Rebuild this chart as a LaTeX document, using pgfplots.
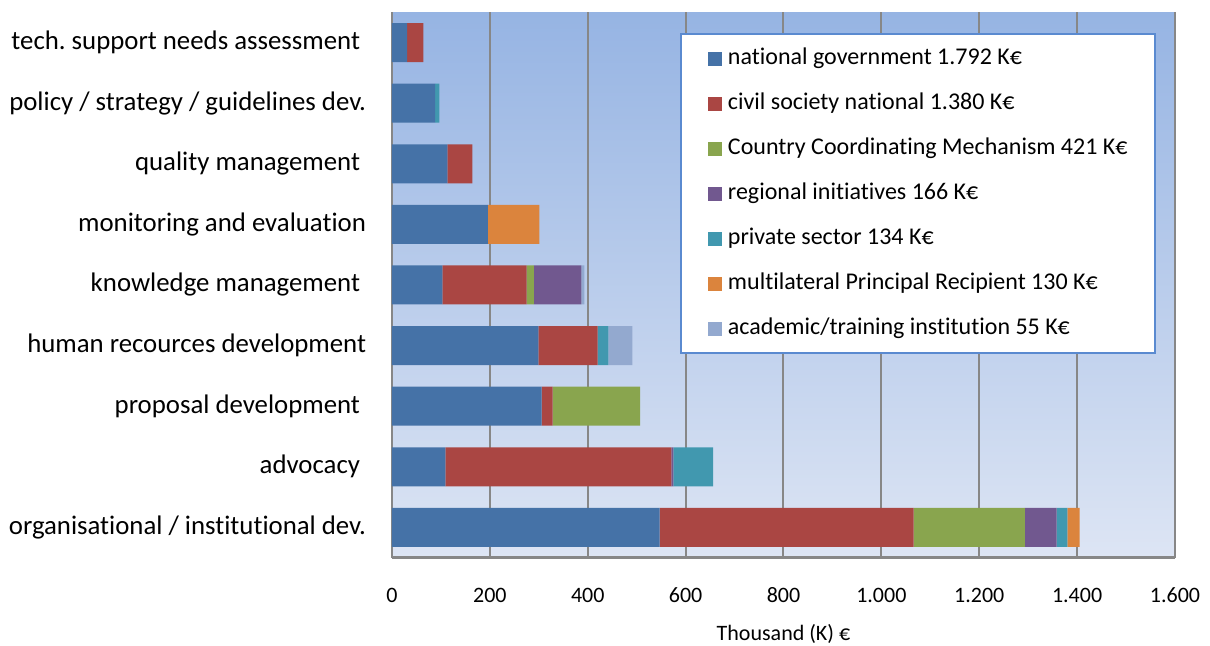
\documentclass[border=0pt]{standalone}
\usepackage{fontspec}
\setmainfont{Carlito}[Ligatures=NoCommon]
\frenchspacing
\usepackage{pgfplots}
\pgfplotsset{compat=1.18}
\definecolor{c1}{HTML}{4572A7}
\definecolor{c2}{HTML}{AA4643}
\definecolor{c3}{HTML}{89A54E}
\definecolor{c4}{HTML}{71588F}
\definecolor{c5}{HTML}{4198AF}
\definecolor{c6}{HTML}{DB843D}
\definecolor{c7}{HTML}{93A9CF}
\definecolor{gridgray}{HTML}{878787}
\definecolor{legblue}{HTML}{5A8AD0}
\definecolor{bgtop}{RGB}{150,180,227}
\definecolor{bgbot}{RGB}{221,229,244}
\begin{document}
\begin{tikzpicture}
\useasboundingbox (-196pt,-44.15pt) rectangle (409pt,278.85pt);
\begin{axis}[
  at={(0,0)}, anchor=south west,
  scale only axis, width=391.5pt, height=272.7pt,
  xbar stacked, bar width=19.5pt,
  xmin=0, xmax=1600, ymin=-0.5, ymax=8.5,
  xtick={0,200,...,1600}, ytick={0,...,8},
  yticklabels={organisational / institutional dev.,advocacy\kern3pt,proposal development\kern3pt,human recources development,knowledge management\kern3pt,monitoring and evaluation,quality management\kern3pt,policy / strategy / guidelines dev.,tech. support needs assessment\kern3pt},
  xmajorgrids, grid style={color=gridgray, line width=1pt},
  axis x line*=bottom, axis y line*=left,
  axis line style={line width=1.2pt, color=gridgray, -},
  major tick length=0pt,
  axis background/.style={top color=bgtop, bottom color=bgbot},
  /pgf/number format/assume math mode=true,
  /pgf/number format/1000 sep={.},
  scaled x ticks=false,
  xticklabel style={anchor=north, inner sep=0pt, yshift=-14.9pt, font=\fontsize{11}{13}\selectfont},
  yticklabel style={anchor=east, inner sep=0pt, xshift=-12.8pt, font=\fontsize{13.4}{15}\selectfont},
  xlabel={Thousand (K) €},
  xlabel style={at={(axis description cs:0.5,0)}, anchor=center, inner sep=0pt, yshift=-38.15pt, font=\fontsize{11}{13}\selectfont},
  legend cell align=left,
  legend image code/.code={\fill[#1] (0pt,-3.5pt) rectangle (7pt,3.5pt); \path (10pt,0pt);},
  legend style={at={(axis description cs:0.3678,0.9615)}, anchor=north west,
    draw=legblue, line width=1pt, fill=white,
    inner xsep=13.5pt, inner ysep=7pt, row sep=12pt,
    font=\fontsize{12}{14}\selectfont,
    nodes={inner sep=0pt, text height=8pt, text depth=2.5pt}},
]
\addplot[fill=c1, draw=none] coordinates {(547,0) (109,1) (306,2) (299,3) (103,4) (196,5) (113,6) (88,7) (31,8)};
\addlegendentry{national government 1.792 K€}
\addplot[fill=c2, draw=none] coordinates {(519,0) (462,1) (22,2) (121,3) (172,4) (0,5) (51,6) (0,7) (33,8)};
\addlegendentry{civil society national 1.380 K€}
\addplot[fill=c3, draw=none] coordinates {(227,0) (0,1) (179,2) (0,3) (15,4) (0,5) (0,6) (0,7) (0,8)};
\addlegendentry{Country Coordinating Mechanism 421 K€}
\addplot[fill=c4, draw=none] coordinates {(65,0) (4,1) (0,2) (0,3) (97,4) (0,5) (0,6) (0,7) (0,8)};
\addlegendentry{regional initiatives 166 K€}
\addplot[fill=c5, draw=none] coordinates {(22,0) (81,1) (0,2) (22,3) (0,4) (0,5) (0,6) (9,7) (0,8)};
\addlegendentry{private sector 134 K€}
\addplot[fill=c6, draw=none] coordinates {(25,0) (0,1) (0,2) (0,3) (0,4) (105,5) (0,6) (0,7) (0,8)};
\addlegendentry{multilateral Principal Recipient 130 K€}
\addplot[fill=c7, draw=none] coordinates {(0,0) (0,1) (0,2) (49,3) (6,4) (0,5) (0,6) (0,7) (0,8)};
\addlegendentry{academic/training institution 55 K€}
\end{axis}
\end{tikzpicture}
\end{document}
